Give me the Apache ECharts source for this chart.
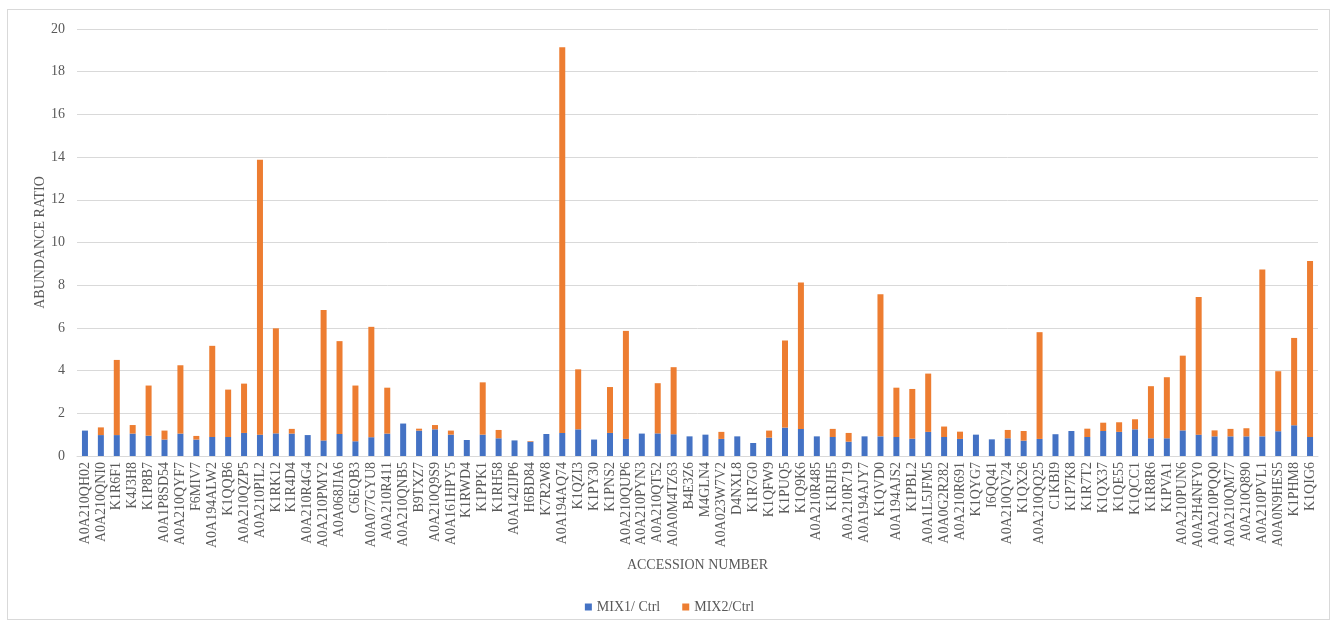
<!DOCTYPE html>
<html>
<head>
<meta charset="utf-8">
<script src="https://cdn.jsdelivr.net/npm/echarts@6/dist/echarts.min.js"></script>
<style>
  html, body { margin: 0; padding: 0; background: #fff; }
  #frame { position: absolute; left: 7px; top: 9px; width: 1323px; height: 611px; border: 1px solid #d9d9d9; box-sizing: border-box; }
  #chart { width: 1339px; height: 623px; }
</style>
</head>
<body>
<div id="frame"></div>
<div id="chart"></div>
<script>
const accessions = [
  'A0A210QH02','A0A210QNI0','K1R6F1','K4J3H8','K1P8B7','A0A1P8SD54','A0A210QYF7','F6MIV7','A0A194ALW2','K1QQB6',
  'A0A210QZP5','A0A210PIL2','K1RK12','K1R4D4','A0A210R4G4','A0A210PMY2','A0A068JIA6','C6EQB3','A0A077GYU8','A0A210R411',
  'A0A210QNB5','B9TXZ7','A0A210Q9S9','A0A161HPY5','K1RWD4','K1PPK1','K1RH58','A0A142IJP6','H6BD84','K7R2W8',
  'A0A194AQ74','K1QZI3','K1PY30','K1PNS2','A0A210QUP6','A0A210PYN3','A0A210QT52','A0A0M4TZ63','B4E3Z6','M4GLN4',
  'A0A023W7V2','D4NXL8','K1R7G0','K1QFW9','K1PUQ5','K1Q9K6','A0A210R485','K1RJH5','A0A210R719','A0A194AJY7',
  'K1QVD0','A0A194AJS2','K1PBL2','A0A1L5JFM5','A0A0G2R282','A0A210R691','K1QYG7','I6QQ41','A0A210QV24','K1QX26',
  'A0A210QQ25','C1KBI9','K1P7K8','K1R7T2','K1QX37','K1QE55','K1QCC1','K1R8R6','K1PVA1','A0A210PUN6',
  'A0A2H4NFY0','A0A210PQQ0','A0A210QM77','A0A210Q890','A0A210PVL1','A0A0N9HES5','K1PHM8','K1QIG6'
];

// MIX1 / Ctrl ratio
const mix1 = [
  1.19, 0.98, 0.98, 1.05, 0.95, 0.77, 1.05, 0.77, 0.89, 0.89,
  1.08, 1.00, 1.06, 1.05, 0.98, 0.73, 1.03, 0.69, 0.88, 1.05,
  1.52, 1.19, 1.25, 1.00, 0.75, 1.00, 0.83, 0.73, 0.67, 1.03,
  1.08, 1.25, 0.77, 1.08, 0.80, 1.05, 1.06, 1.02, 0.92, 1.00,
  0.80, 0.92, 0.61, 0.86, 1.33, 1.27, 0.92, 0.89, 0.67, 0.92,
  0.92, 0.89, 0.81, 1.13, 0.89, 0.80, 1.00, 0.78, 0.83, 0.72,
  0.80, 1.02, 1.17, 0.89, 1.17, 1.13, 1.25, 0.83, 0.83, 1.20,
  1.00, 0.92, 0.92, 0.92, 0.92, 1.16, 1.44, 0.89
];

// MIX2 / Ctrl ratio (stacked above MIX1)
const mix2 = [
  0.00, 0.36, 3.52, 0.40, 2.35, 0.42, 3.20, 0.17, 4.27, 2.22,
  2.31, 12.88, 4.92, 0.22, 0.00, 6.11, 4.35, 2.61, 5.17, 2.15,
  0.00, 0.09, 0.20, 0.19, 0.00, 2.45, 0.39, 0.00, 0.03, 0.00,
  18.06, 2.81, 0.00, 2.15, 5.06, 0.00, 2.35, 3.14, 0.00, 0.00,
  0.33, 0.00, 0.00, 0.33, 4.08, 6.86, 0.00, 0.38, 0.41, 0.00,
  6.66, 2.31, 2.33, 2.73, 0.49, 0.34, 0.00, 0.00, 0.39, 0.45,
  5.00, 0.00, 0.00, 0.39, 0.39, 0.45, 0.47, 2.44, 2.86, 3.50,
  6.45, 0.28, 0.35, 0.38, 7.81, 2.81, 4.09, 8.24
];

const yTicks = { min: 0, max: 20, interval: 2 };
const seriesNames = ['MIX1/ Ctrl', 'MIX2/Ctrl'];

const textColor = '#595959';
const fontFamily = '"Liberation Serif", "Times New Roman", serif';

const chart = echarts.init(document.getElementById('chart'), null, { renderer: 'canvas' });
chart.setOption({
  animation: false,
  textStyle: { fontFamily: fontFamily, color: textColor },
  grid: { left: 77, right: 21, top: 29, bottom: 167, containLabel: false },
  legend: {
    data: seriesNames,
    bottom: 4,
    left: 'center',
    itemWidth: 7,
    itemHeight: 7,
    itemGap: 22,
    icon: 'rect',
    textStyle: { fontFamily: fontFamily, color: textColor, fontSize: 14 }
  },
  xAxis: {
    type: 'category',
    data: accessions,
    name: 'ACCESSION NUMBER',
    nameLocation: 'middle',
    nameGap: 102,
    nameTextStyle: { fontFamily: fontFamily, color: textColor, fontSize: 14 },
    axisTick: { show: false },
    axisLine: { lineStyle: { color: '#d9d9d9', width: 1 } },
    axisLabel: {
      interval: 0,
      rotate: 90,
      margin: 6,
      fontFamily: fontFamily,
      color: textColor,
      fontSize: 14
    }
  },
  yAxis: {
    type: 'value',
    min: yTicks.min,
    max: yTicks.max,
    interval: yTicks.interval,
    name: 'ABUNDANCE RATIO',
    nameLocation: 'middle',
    nameGap: 30,
    nameMoveOverlap: false,
    nameRotate: 90,
    nameTextStyle: { fontFamily: fontFamily, color: textColor, fontSize: 14 },
    axisLine: { show: false },
    axisTick: { show: false },
    axisLabel: { margin: 12, fontFamily: fontFamily, color: textColor, fontSize: 14 },
    splitLine: { lineStyle: { color: '#d9d9d9', width: 1 } }
  },
  series: [
    {
      name: seriesNames[0],
      type: 'bar',
      stack: 'ratio',
      data: mix1,
      barWidth: 6,
      itemStyle: { color: '#4472C4' }
    },
    {
      name: seriesNames[1],
      type: 'bar',
      stack: 'ratio',
      data: mix2,
      barWidth: 6,
      itemStyle: { color: '#ED7D31' }
    }
  ]
});
</script>
</body>
</html>
